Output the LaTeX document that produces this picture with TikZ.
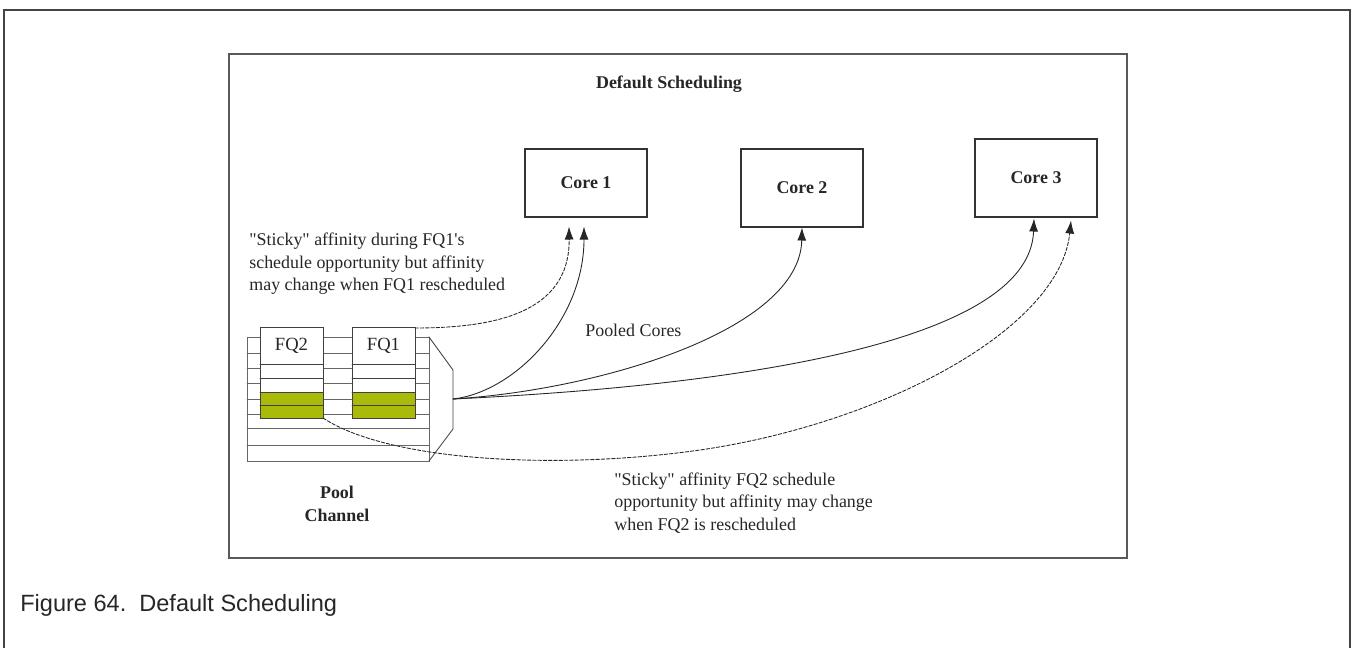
\documentclass[tikz,border=0pt]{standalone}
\usepackage{fontspec}
\setmainfont{Liberation Serif}
\newfontfamily\capfont{Liberation Sans}
\usetikzlibrary{arrows.meta,calc}
\definecolor{qgreen}{RGB}{169,186,8}
\definecolor{framegray}{RGB}{68,68,68}
\newcommand{\dq}{\textquotedbl}

\begin{document}
\begin{tikzpicture}[x=0.02cm, y=-0.02cm, line cap=round,
  txt/.style={font=\fontsize{10.2}{12.8}\selectfont, text=black!85, inner sep=0pt},
  core/.style={draw=black!80, text=black!85, font=\fontsize{10.2}{12.8}\selectfont\bfseries,
    minimum width=2.44cm, line width=0.6pt},
  link/.style={-{Latex[length=2.6mm,width=1.8mm]}, black!85, line width=0.5pt},
  sticky/.style={link, dash pattern=on 2pt off 1pt}]
  \useasboundingbox (0,0) rectangle (1352,648);
  % page frame and figure box
  \draw[framegray, line width=1.1pt] (4,648) -- (4,10) -- (1350,10) -- (1350,648);
  \draw[black!65, line width=0.6pt] (229,54) rectangle (1127,558);
  \node[txt, font=\fontsize{10.2}{12.8}\selectfont\bfseries] (title) at (669,84) {Default Scheduling};
  % cores
  \node[core, minimum height=1.36cm] (core1) at (586,183) {Core 1};
  \node[core, minimum height=1.56cm] (core2) at (802,188) {Core 2};
  \node[core, minimum height=1.56cm] (core3) at (1036,178) {Core 3};
  % pool channel: rows behind the queues
  \draw[black!60, line width=0.5pt] (247,337) rectangle (429,461);
  \foreach \y in {353,368,383,399,414,428,445}
    \draw[black!60, line width=0.5pt] (247,\y) -- (429,\y);
  \draw[black!75, line width=0.5pt] (429,337) -- (453,370) -- (453,429) -- (429,461);
  \coordinate (out) at (453,399);
  % the two frame queues
  \foreach \x in {260,352} {
    \fill[white] (\x,327) rectangle (\x+63,418);
    \fill[qgreen] (\x,392) rectangle (\x+63,418);
    \draw[black!75, line width=0.5pt] (\x,327) rectangle (\x+63,418);
    \foreach \y in {364,378,392,405}
      \draw[black!75, line width=0.5pt] (\x,\y) -- (\x+63,\y);
  }
  \node[txt, font=\fontsize{10.6}{12.8}\selectfont] (fq2) at (291.5,346) {FQ2};
  \node[txt, font=\fontsize{10.6}{12.8}\selectfont] (fq1) at (383.5,346) {FQ1};
  \coordinate (fq1end) at (415,328);
  \coordinate (fq2end) at (323,418);
  \node[txt, font=\fontsize{10.2}{12.8}\selectfont\bfseries, align=center] (pool) at (337,504) {Pool\\Channel};
  % pooled links to every core
  \draw[link] (out) .. controls (515,392) and (584,320) .. ($(core1.south)+(-2,9)$);
  \draw[link] (out) .. controls (600,390) and (800,330) .. (core2.south);
  \draw[link] (out) .. controls (750,385) and (1030,340) .. ($(core3.south)+(-2,1)$);
  \node[txt, anchor=west] (pooled) at (585,330) {Pooled Cores};
  % sticky affinity
  \draw[sticky] (fq1end) .. controls (490,328) and (570,315) .. ($(core1.south)+(-17,9)$);
  \draw[sticky] (fq2end) .. controls (390,462) and (560,470) .. (700,450)
    .. controls (880,424) and (1060,330) .. ($(core3.south)+(35,3)$);
  \node[txt, anchor=west, align=left] (note1) at (249,264)
    {\dq Sticky\dq{} affinity during FQ1\textquotesingle s\\schedule opportunity but affinity\\may change when FQ1 rescheduled};
  \node[txt, anchor=west, align=left] (note2) at (614,503)
    {\dq Sticky\dq{} affinity FQ2 schedule\\opportunity but affinity may change\\when FQ2 is rescheduled};
  % caption
  \node[anchor=west, inner sep=0pt, font=\capfont\fontsize{13.4}{16}\selectfont, text=black!85]
    (caption) at (20,605) {Figure 64.\ \ Default Scheduling};
\end{tikzpicture}
\end{document}
